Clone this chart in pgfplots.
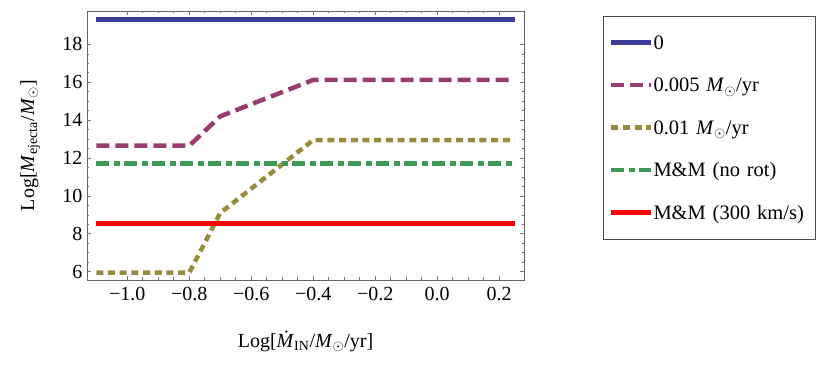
\documentclass[border=0pt]{standalone}
\usepackage{fontspec}
\setmainfont{Liberation Serif}
\usepackage{pgfplots}
\pgfplotsset{compat=1.18}
\definecolor{c0}{rgb}{0.24,0.24,0.6}
\definecolor{c1}{rgb}{0.6,0.24,0.442}
\definecolor{c2}{rgb}{0.6,0.547,0.24}
\definecolor{c3}{rgb}{0.24,0.6,0.33}

\begin{document}
\begin{tikzpicture}[font=\fontsize{20}{24}\selectfont]
\path[use as bounding box] (0,0) rectangle (830pt,372pt);
\begin{axis}[
    at={(87pt,92pt)}, anchor=south west,
    width=437pt, height=269pt, scale only axis,
    xmin=-1.13, xmax=0.28, ymin=5.56, ymax=19.76,
    xtick={-1,-0.8,-0.6,-0.4,-0.2,0,0.2},
    xticklabels={−1.0,−0.8,−0.6,−0.4,−0.2,0.0,0.2},
    ytick={6,8,10,12,14,16,18},
    yticklabels={6,8,10,12,14,16,18},
    minor x tick num=3, minor y tick num=3,
    tick align=inside,
    major tick length=4pt, minor tick length=2.5pt,
    tick style={black!55, line width=0.6pt},
    axis line style={black!60, line width=0.8pt},
    xticklabel style={yshift=-4pt},
    yticklabel style={xshift=-1pt},
    xlabel={Log[\textit{\.{M}}\textsubscript{IN}/\textit{M}$_\odot$/yr]},
    ylabel={Log[\textit{M}\textsubscript{ejecta}/\textit{M}$_\odot$]},
    xlabel style={at={(axis description cs:0.5,-0.229)}, anchor=center},
    ylabel style={at={(axis description cs:-0.13,0.5)}, anchor=center},
    legend cell align=left,
    legend image code/.code={\draw[#1] (0pt,0pt) -- (40pt,0pt);},
    legend style={at={(1.18,0.983)}, anchor=north west,
        draw=black!70, line width=0.7pt, fill=white,
        inner xsep=6pt, inner ysep=15pt, row sep=19pt,
        nodes={text height=18.5pt, text depth=5pt, inner sep=0pt,
            font=\fontsize{20.5}{24}\selectfont},
        /tikz/column 2/.style={column sep=2pt, nodes={text width=156pt, align=left}}},
    line cap=butt,
]
\addplot[c0, line width=4.5pt] coordinates {(-1.1,19.32) (0.25,19.32)};
\addlegendentry{0}
\addplot[c1, line width=4.5pt, dash pattern=on 13pt off 6pt] coordinates {
    (-1.1,12.65) (-0.8,12.65) (-0.7,14.2) (-0.4,16.12) (0.25,16.12)};
\addlegendentry{0.005 \textit{M}$_\odot$/yr}
\addplot[c2, line width=4.5pt, dash pattern=on 7pt off 4.7pt] coordinates {
    (-1.1,5.95) (-0.8,5.95) (-0.7,9.1) (-0.4,12.95) (0.25,12.95)};
\addlegendentry{0.01 \textit{M}$_\odot$/yr}
\addplot[c3, line width=4.5pt, dash pattern=on 13pt off 4.5pt on 6pt off 4.5pt] coordinates {
    (-1.1,11.72) (0.25,11.72)};
\addlegendentry{M\&M (no rot)}
\addplot[red, line width=4.5pt] coordinates {(-1.1,8.55) (0.25,8.55)};
\addlegendentry{M\&M (300 km/s)}
\end{axis}
\end{tikzpicture}
\end{document}
